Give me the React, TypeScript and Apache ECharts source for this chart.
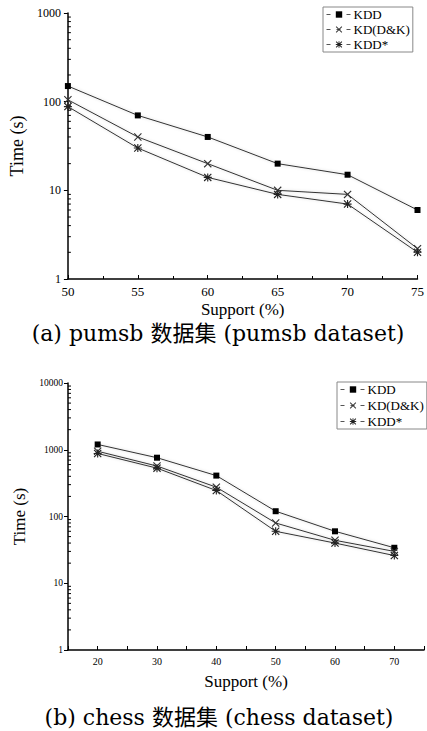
import React, { useEffect, useRef } from "react";
import * as echarts from "echarts";

// ---- data: (a) pumsb ----
const supportA = [50, 55, 60, 65, 70, 75];
const kddA = [150, 70, 40, 20, 15, 6];
const kdDKA = [105, 40, 20, 10, 9, 2.2];
const kddStarA = [88, 30, 14, 9, 7, 2.0];

// ---- data: (b) chess ----
const supportB = [20, 30, 40, 50, 60, 70];
const kddB = [1200, 760, 410, 120, 60, 34];
const kdDKB = [950, 570, 275, 80, 44, 30];
const kddStarB = [880, 530, 245, 60, 40, 26];

const seriesNames = ["KDD", "KD(D&K)", "KDD*"];
const captionA = "(a) pumsb 数据集 (pumsb dataset)";
const captionB = "(b) chess 数据集 (chess dataset)";
const xTitle = "Support (%)";
const yTitle = "Time (s)";

// log-axis minor tick multipliers (2..9 per decade)
const minorMultipliers = [2, 3, 4, 5, 6, 7, 8, 9];
const decadesA = [1, 10, 100];
const decadesB = [1, 10, 100, 1000];

const SERIF = "Liberation Serif";
const CAPTION_FONT = "DejaVu Serif, Noto Sans CJK SC, serif";

const SYM_X =
  "path://M0,1 L1,0 L5,4 L9,0 L10,1 L6,5 L10,9 L9,10 L5,6 L1,10 L0,9 L4,5 Z";
const SYM_AST =
  "path://M4.3,0 H5.7 V10 H4.3 Z M0,4.3 H10 V5.7 H0 Z M0,1 L1,0 L10,9 L9,10 Z M9,0 L10,1 L1,10 L0,9 Z";

function pairs(xs: number[], ys: number[]) {
  return xs.map((x, i) => [x, ys[i]]);
}

function minorTicks(decades: number[], xMin: number) {
  const out: number[][] = [];
  decades.forEach((d) => minorMultipliers.forEach((m) => out.push([xMin, d * m])));
  return out;
}

const lineColor = "#333";

function makeSeries(idx: number, xs: number[], a: number[], b: number[], c: number[]) {
  const base = {
    type: "line",
    xAxisIndex: idx,
    yAxisIndex: idx,
    lineStyle: {
      color: lineColor,
      width: 1,
      shadowColor: "rgba(0,0,0,0.18)",
      shadowBlur: 3,
    },
    clip: false,
    z: 3,
  };
  return [
    {
      ...base,
      name: seriesNames[0],
      data: pairs(xs, a),
      symbol: "rect",
      symbolSize: 6,
      itemStyle: { color: "#000" },
    },
    {
      ...base,
      name: seriesNames[1],
      data: pairs(xs, b),
      symbol: SYM_X,
      symbolSize: 8,
      itemStyle: { color: "#333" },
    },
    {
      ...base,
      name: seriesNames[2],
      data: pairs(xs, c),
      symbol: SYM_AST,
      symbolSize: 8,
      itemStyle: { color: "#222" },
    },
  ];
}

function minorSeries(idx: number, decades: number[], xMin: number) {
  return {
    type: "custom",
    xAxisIndex: idx,
    yAxisIndex: idx,
    silent: true,
    clip: false,
    data: minorTicks(decades, xMin),
    renderItem: (_p: any, api: any) => {
      const pt = api.coord([api.value(0), api.value(1)]);
      return {
        type: "line",
        shape: { x1: pt[0], y1: pt[1], x2: pt[0] + 3, y2: pt[1] },
        style: { stroke: "#000", lineWidth: 1 },
      };
    },
  };
}

function legendAt(left: number, top: number, gap: number) {
  return {
    data: seriesNames,
    orient: "vertical",
    left,
    top,
    itemWidth: 25,
    itemHeight: 8,
    itemGap: gap,
    padding: [1, 3, 1, 3],
    borderColor: "#888",
    borderWidth: 1,
    lineStyle: { type: [4, 6], width: 1, color: "#555", shadowBlur: 0 },
    textStyle: { fontFamily: SERIF, fontSize: 13, color: "#000", padding: [0, 0, 0, -3] },
    selectedMode: false,
  };
}

export default function App() {
  const ref = useRef<HTMLDivElement>(null);
  useEffect(() => {
    if (!ref.current) return;
    const chart = echarts.init(ref.current, undefined, { renderer: "svg" });
    const axisLine = { lineStyle: { color: "#000", width: 1.5 } };
    const option: any = {
      animation: false,
      backgroundColor: "#fff",
      grid: [
        { left: 63, top: 13, width: 357, height: 266 },
        { left: 68, top: 383, width: 359, height: 267 },
      ],
      xAxis: [
        {
          type: "value",
          gridIndex: 0,
          min: 50,
          max: 75,
          interval: 5,
          axisLine,
          axisTick: { inside: true, length: 4, lineStyle: { color: "#000" } },
          minorTick: { show: true, splitNumber: 2, length: 3, lineStyle: { color: "#000" } },
          splitLine: { show: false },
          axisLabel: { margin: 6, fontFamily: SERIF, fontSize: 13, color: "#000" },
          name: xTitle,
          nameLocation: "middle",
          nameGap: 22,
          nameTextStyle: { fontFamily: SERIF, fontSize: 17, color: "#000" },
        },
        {
          type: "value",
          gridIndex: 1,
          min: 15,
          max: 75,
          interval: 5,
          axisLine,
          axisTick: { inside: true, length: 4, lineStyle: { color: "#000" } },
          splitLine: { show: false },
          axisLabel: {
            margin: 6,
            fontFamily: SERIF,
            fontSize: 10,
            color: "#000",
            formatter: (v: number) => (v % 10 === 0 && v >= 20 && v <= 70 ? String(v) : ""),
          },
          name: xTitle,
          nameLocation: "middle",
          nameGap: 23,
          nameTextStyle: { fontFamily: SERIF, fontSize: 17, color: "#000" },
        },
      ],
      yAxis: [
        {
          type: "log",
          logBase: 10,
          gridIndex: 0,
          min: 1,
          max: 1000,
          axisLine,
          axisTick: { length: 4, lineStyle: { color: "#000" } },
          splitLine: { show: false },
          axisLabel: {
            margin: 7,
            fontFamily: SERIF,
            fontSize: 12,
            color: "#000",
            formatter: (v: number) => String(Math.round(v)),
          },
          name: yTitle,
          nameLocation: "middle",
          nameGap: 30,
          nameTextStyle: { fontFamily: SERIF, fontSize: 18, color: "#000" },
        },
        {
          type: "log",
          logBase: 10,
          gridIndex: 1,
          min: 1,
          max: 10000,
          axisLine,
          axisTick: { length: 4, lineStyle: { color: "#000" } },
          splitLine: { show: false },
          axisLabel: {
            margin: 5,
            fontFamily: SERIF,
            fontSize: 9.5,
            color: "#000",
            formatter: (v: number) => String(Math.round(v)),
          },
          name: yTitle,
          nameLocation: "middle",
          nameGap: 33,
          nameTextStyle: { fontFamily: SERIF, fontSize: 17, color: "#000" },
        },
      ],
      legend: [legendAt(323, 7, 2), legendAt(337, 382, 3)],
      graphic: [
        {
          type: "text",
          x: 218,
          y: 333,
          style: {
            text: captionA,
            font: `22px ${CAPTION_FONT}`,
            fill: "#000",
            align: "center",
            verticalAlign: "middle",
          },
        },
        {
          type: "text",
          x: 219,
          y: 717,
          style: {
            text: captionB,
            font: `22px ${CAPTION_FONT}`,
            fill: "#000",
            align: "center",
            verticalAlign: "middle",
          },
        },
      ],
      series: [
        ...makeSeries(0, supportA, kddA, kdDKA, kddStarA),
        ...makeSeries(1, supportB, kddB, kdDKB, kddStarB),
        minorSeries(0, decadesA, 50),
        minorSeries(1, decadesB, 15),
      ],
    };
    chart.setOption(option);
    return () => chart.dispose();
  }, []);
  return (
    <div
      ref={ref}
      style={{ position: "fixed", left: 0, top: 0, width: 427, height: 731, background: "#fff" }}
    />
  );
}
